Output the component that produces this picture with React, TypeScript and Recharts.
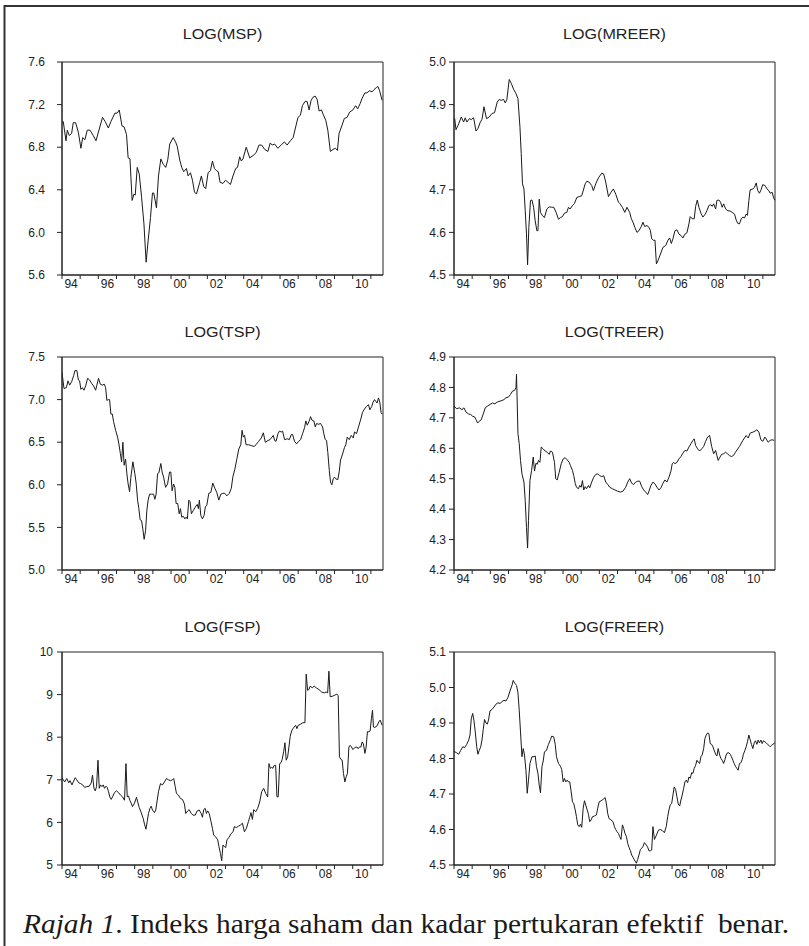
import React from 'react';
import { LineChart, Line, XAxis, YAxis, ReferenceArea } from 'recharts';

type Pt = [number, number];

// ---- shared axis data ----
const YEAR_TICKS = [1994, 1995, 1996, 1997, 1998, 1999, 2000, 2001, 2002, 2003, 2004, 2005, 2006, 2007, 2008, 2009, 2010, 2011];
const X_DOMAIN: [number, number] = [1994, 2011.667];

const MSP_TICKS = [5.6, 6.0, 6.4, 6.8, 7.2, 7.6];
const MREER_TICKS = [4.5, 4.6, 4.7, 4.8, 4.9, 5.0];
const TSP_TICKS = [5.0, 5.5, 6.0, 6.5, 7.0, 7.5];
const TREER_TICKS = [4.2, 4.3, 4.4, 4.5, 4.6, 4.7, 4.8, 4.9];
const FSP_TICKS = [5, 6, 7, 8, 9, 10];
const FREER_TICKS = [4.5, 4.6, 4.7, 4.8, 4.9, 5.0, 5.1];

// ---- series: [year, value] ----
const MSP: Pt[] = [
  [1994.00, 7.04], [1994.07, 7.04], [1994.22, 6.86], [1994.29, 6.96], [1994.40, 6.91], [1994.53, 6.93], [1994.62, 7.03], [1994.75, 7.03],
  [1994.90, 6.94], [1995.04, 6.79], [1995.14, 6.89], [1995.26, 6.87], [1995.39, 6.96], [1995.54, 6.96], [1995.72, 6.91], [1995.87, 6.86],
  [1996.05, 6.97], [1996.23, 7.08], [1996.38, 7.04], [1996.55, 6.98], [1996.69, 7.04], [1996.91, 7.12], [1997.04, 7.12], [1997.15, 7.15],
  [1997.30, 7.00], [1997.42, 6.99], [1997.55, 6.92], [1997.64, 6.70], [1997.74, 6.69], [1997.86, 6.30], [1997.96, 6.36], [1998.03, 6.35],
  [1998.14, 6.61], [1998.25, 6.55], [1998.38, 6.33], [1998.51, 6.08], [1998.63, 5.72], [1998.74, 5.92], [1998.87, 6.14], [1998.98, 6.37],
  [1999.05, 6.37], [1999.20, 6.23], [1999.31, 6.53], [1999.44, 6.69], [1999.57, 6.64], [1999.71, 6.61], [1999.82, 6.68], [1999.93, 6.83],
  [2000.12, 6.89], [2000.25, 6.85], [2000.34, 6.81], [2000.48, 6.68], [2000.59, 6.61], [2000.70, 6.57], [2000.85, 6.60], [2000.94, 6.53],
  [2001.07, 6.56], [2001.18, 6.49], [2001.29, 6.38], [2001.40, 6.36], [2001.58, 6.47], [2001.67, 6.53], [2001.80, 6.43], [2001.91, 6.41],
  [2002.04, 6.56], [2002.17, 6.58], [2002.28, 6.67], [2002.39, 6.60], [2002.50, 6.58], [2002.60, 6.57], [2002.70, 6.47], [2002.86, 6.46],
  [2003.00, 6.49], [2003.14, 6.47], [2003.27, 6.45], [2003.41, 6.53], [2003.56, 6.60], [2003.66, 6.61], [2003.78, 6.71], [2003.87, 6.67],
  [2003.96, 6.69], [2004.14, 6.80], [2004.33, 6.70], [2004.51, 6.72], [2004.69, 6.75], [2004.84, 6.82], [2004.99, 6.82], [2005.15, 6.78],
  [2005.33, 6.76], [2005.46, 6.84], [2005.57, 6.82], [2005.70, 6.83], [2005.88, 6.79], [2006.06, 6.82], [2006.24, 6.85], [2006.39, 6.82],
  [2006.57, 6.86], [2006.72, 6.89], [2006.86, 6.99], [2006.99, 7.08], [2007.12, 7.10], [2007.23, 7.19], [2007.38, 7.23], [2007.49, 7.23],
  [2007.60, 7.15], [2007.71, 7.24], [2007.82, 7.27], [2007.93, 7.28], [2008.04, 7.25], [2008.15, 7.14], [2008.28, 7.15], [2008.37, 7.11],
  [2008.52, 7.05], [2008.63, 6.96], [2008.77, 6.76], [2008.92, 6.78], [2009.05, 6.79], [2009.16, 6.77], [2009.25, 6.93], [2009.40, 7.00],
  [2009.54, 7.07], [2009.69, 7.08], [2009.83, 7.13], [2010.01, 7.15], [2010.16, 7.19], [2010.27, 7.16], [2010.41, 7.21], [2010.52, 7.26],
  [2010.67, 7.31], [2010.78, 7.31], [2010.92, 7.33], [2011.07, 7.32], [2011.17, 7.34], [2011.30, 7.36], [2011.39, 7.37], [2011.48, 7.33],
  [2011.62, 7.24],
];

const MREER: Pt[] = [
  [1994.00, 4.867], [1994.04, 4.867], [1994.11, 4.841], [1994.26, 4.855], [1994.40, 4.871], [1994.53, 4.859], [1994.62, 4.869], [1994.71, 4.859],
  [1994.84, 4.867], [1994.95, 4.865], [1995.08, 4.869], [1995.21, 4.838], [1995.32, 4.844], [1995.45, 4.859], [1995.54, 4.865], [1995.65, 4.895],
  [1995.79, 4.867], [1995.94, 4.871], [1996.09, 4.879], [1996.23, 4.881], [1996.38, 4.906], [1996.49, 4.912], [1996.60, 4.910], [1996.73, 4.912],
  [1996.82, 4.904], [1996.91, 4.912], [1997.04, 4.959], [1997.15, 4.950], [1997.28, 4.936], [1997.41, 4.926], [1997.52, 4.914], [1997.63, 4.847],
  [1997.70, 4.785], [1997.77, 4.714], [1997.85, 4.702], [1997.92, 4.651], [1997.99, 4.596], [1998.05, 4.524], [1998.12, 4.612], [1998.21, 4.675],
  [1998.29, 4.676], [1998.38, 4.659], [1998.47, 4.627], [1998.56, 4.604], [1998.62, 4.604], [1998.69, 4.678], [1998.76, 4.647], [1998.87, 4.639],
  [1998.98, 4.635], [1999.11, 4.655], [1999.24, 4.660], [1999.38, 4.659], [1999.49, 4.659], [1999.62, 4.647], [1999.75, 4.631], [1999.86, 4.635],
  [1999.97, 4.637], [2000.08, 4.645], [2000.21, 4.647], [2000.30, 4.659], [2000.39, 4.655], [2000.52, 4.663], [2000.63, 4.668], [2000.76, 4.682],
  [2000.89, 4.684], [2001.03, 4.686], [2001.22, 4.714], [2001.31, 4.720], [2001.44, 4.718], [2001.58, 4.710], [2001.67, 4.698], [2001.80, 4.714],
  [2001.95, 4.728], [2002.13, 4.739], [2002.24, 4.737], [2002.35, 4.718], [2002.50, 4.684], [2002.64, 4.694], [2002.77, 4.702], [2002.90, 4.690],
  [2003.05, 4.671], [2003.12, 4.668], [2003.27, 4.659], [2003.40, 4.647], [2003.52, 4.659], [2003.67, 4.647], [2003.76, 4.632], [2003.85, 4.624],
  [2003.95, 4.612], [2004.07, 4.600], [2004.18, 4.604], [2004.31, 4.614], [2004.40, 4.624], [2004.49, 4.614], [2004.62, 4.616], [2004.73, 4.612],
  [2004.81, 4.604], [2004.88, 4.585], [2004.99, 4.581], [2005.06, 4.582], [2005.14, 4.526], [2005.23, 4.534], [2005.36, 4.549], [2005.50, 4.565],
  [2005.65, 4.569], [2005.78, 4.582], [2005.87, 4.587], [2005.96, 4.574], [2006.05, 4.585], [2006.16, 4.604], [2006.27, 4.606], [2006.38, 4.596],
  [2006.51, 4.592], [2006.60, 4.587], [2006.71, 4.596], [2006.82, 4.599], [2006.93, 4.620], [2007.00, 4.637], [2007.11, 4.632], [2007.22, 4.632],
  [2007.30, 4.661], [2007.39, 4.676], [2007.48, 4.659], [2007.61, 4.643], [2007.70, 4.636], [2007.83, 4.643], [2007.92, 4.651], [2008.03, 4.663],
  [2008.14, 4.665], [2008.21, 4.661], [2008.29, 4.667], [2008.40, 4.655], [2008.47, 4.675], [2008.58, 4.676], [2008.67, 4.671], [2008.76, 4.659],
  [2008.84, 4.667], [2008.95, 4.655], [2009.07, 4.651], [2009.20, 4.650], [2009.31, 4.647], [2009.44, 4.643], [2009.53, 4.629], [2009.62, 4.621],
  [2009.71, 4.620], [2009.81, 4.632], [2009.90, 4.636], [2009.99, 4.634], [2010.08, 4.643], [2010.15, 4.640], [2010.23, 4.675], [2010.30, 4.700],
  [2010.45, 4.702], [2010.54, 4.706], [2010.63, 4.716], [2010.72, 4.698], [2010.81, 4.692], [2010.90, 4.700], [2010.99, 4.712], [2011.12, 4.710],
  [2011.23, 4.702], [2011.33, 4.698], [2011.40, 4.692], [2011.51, 4.694], [2011.58, 4.683], [2011.66, 4.675],
];

const TSP: Pt[] = [
  [1994.00, 7.32], [1994.11, 7.13], [1994.24, 7.14], [1994.33, 7.22], [1994.42, 7.17], [1994.53, 7.21], [1994.64, 7.28], [1994.71, 7.34],
  [1994.82, 7.34], [1994.90, 7.23], [1994.97, 7.22], [1995.04, 7.12], [1995.12, 7.14], [1995.21, 7.11], [1995.30, 7.16], [1995.41, 7.25],
  [1995.52, 7.23], [1995.63, 7.19], [1995.74, 7.16], [1995.85, 7.11], [1995.92, 7.17], [1996.01, 7.25], [1996.11, 7.18], [1996.22, 7.17],
  [1996.33, 7.18], [1996.40, 7.14], [1996.47, 6.99], [1996.55, 7.00], [1996.62, 7.00], [1996.69, 6.83], [1996.77, 6.83], [1996.84, 6.74],
  [1996.95, 6.64], [1997.06, 6.56], [1997.13, 6.48], [1997.21, 6.37], [1997.28, 6.27], [1997.35, 6.50], [1997.42, 6.23], [1997.50, 6.30],
  [1997.57, 6.13], [1997.64, 6.01], [1997.72, 5.92], [1997.79, 6.09], [1997.90, 6.27], [1998.01, 6.13], [1998.08, 6.02], [1998.16, 5.82],
  [1998.23, 5.72], [1998.30, 5.59], [1998.38, 5.58], [1998.45, 5.48], [1998.52, 5.36], [1998.60, 5.46], [1998.67, 5.70], [1998.74, 5.82],
  [1998.82, 5.89], [1998.93, 5.89], [1999.04, 5.89], [1999.11, 5.83], [1999.18, 5.89], [1999.26, 6.13], [1999.33, 6.14], [1999.44, 6.25],
  [1999.51, 6.15], [1999.59, 6.09], [1999.70, 5.97], [1999.81, 6.01], [1999.92, 6.15], [1999.99, 6.15], [2000.06, 5.93], [2000.14, 6.01],
  [2000.21, 5.97], [2000.28, 5.78], [2000.37, 5.78], [2000.45, 5.66], [2000.52, 5.72], [2000.59, 5.62], [2000.68, 5.63], [2000.76, 5.60],
  [2000.83, 5.62], [2000.90, 5.60], [2000.98, 5.82], [2001.05, 5.80], [2001.12, 5.66], [2001.23, 5.70], [2001.34, 5.74], [2001.44, 5.77],
  [2001.51, 5.72], [2001.56, 5.82], [2001.64, 5.64], [2001.73, 5.60], [2001.82, 5.64], [2001.89, 5.74], [2001.97, 5.76], [2002.08, 5.90],
  [2002.19, 5.91], [2002.30, 6.02], [2002.41, 5.96], [2002.52, 5.91], [2002.63, 5.82], [2002.74, 5.89], [2002.85, 5.90], [2002.96, 5.90],
  [2003.07, 5.87], [2003.21, 5.90], [2003.32, 5.96], [2003.40, 6.09], [2003.51, 6.18], [2003.62, 6.30], [2003.73, 6.42], [2003.84, 6.47],
  [2003.91, 6.64], [2003.98, 6.56], [2004.05, 6.58], [2004.13, 6.47], [2004.27, 6.47], [2004.42, 6.46], [2004.57, 6.45], [2004.68, 6.47],
  [2004.82, 6.51], [2004.97, 6.55], [2005.08, 6.61], [2005.19, 6.50], [2005.34, 6.52], [2005.45, 6.53], [2005.56, 6.56], [2005.63, 6.58],
  [2005.70, 6.52], [2005.78, 6.51], [2005.89, 6.60], [2005.96, 6.63], [2006.07, 6.62], [2006.14, 6.63], [2006.25, 6.53], [2006.40, 6.54],
  [2006.51, 6.53], [2006.62, 6.59], [2006.69, 6.59], [2006.80, 6.51], [2006.91, 6.48], [2007.02, 6.51], [2007.13, 6.53], [2007.24, 6.60],
  [2007.35, 6.67], [2007.42, 6.75], [2007.50, 6.70], [2007.61, 6.75], [2007.68, 6.80], [2007.75, 6.76], [2007.86, 6.75], [2007.94, 6.68],
  [2008.01, 6.72], [2008.12, 6.71], [2008.23, 6.72], [2008.34, 6.68], [2008.41, 6.60], [2008.49, 6.53], [2008.56, 6.52], [2008.63, 6.38],
  [2008.71, 6.17], [2008.78, 6.03], [2008.85, 6.00], [2008.93, 6.07], [2009.00, 6.09], [2009.07, 6.07], [2009.18, 6.06], [2009.26, 6.16],
  [2009.33, 6.29], [2009.44, 6.36], [2009.55, 6.44], [2009.62, 6.47], [2009.70, 6.56], [2009.81, 6.53], [2009.92, 6.58], [2010.03, 6.55],
  [2010.10, 6.62], [2010.21, 6.60], [2010.32, 6.68], [2010.43, 6.76], [2010.54, 6.85], [2010.65, 6.89], [2010.76, 6.92], [2010.87, 6.94],
  [2010.94, 6.88], [2011.05, 6.92], [2011.12, 6.97], [2011.20, 7.00], [2011.27, 6.98], [2011.34, 6.96], [2011.42, 7.02], [2011.49, 6.97],
  [2011.56, 6.85], [2011.62, 6.83],
];

const TREER: Pt[] = [
  [1994.00, 4.738], [1994.15, 4.730], [1994.29, 4.733], [1994.44, 4.727], [1994.55, 4.733], [1994.66, 4.719], [1994.79, 4.713], [1994.92, 4.711],
  [1995.03, 4.705], [1995.14, 4.703], [1995.21, 4.694], [1995.30, 4.683], [1995.39, 4.689], [1995.50, 4.694], [1995.61, 4.713], [1995.72, 4.733],
  [1995.83, 4.738], [1995.98, 4.744], [1996.12, 4.749], [1996.25, 4.746], [1996.38, 4.752], [1996.53, 4.755], [1996.64, 4.757], [1996.75, 4.760],
  [1996.86, 4.766], [1996.99, 4.768], [1997.11, 4.777], [1997.22, 4.788], [1997.33, 4.790], [1997.41, 4.799], [1997.44, 4.843], [1997.52, 4.648],
  [1997.59, 4.615], [1997.66, 4.560], [1997.74, 4.516], [1997.85, 4.489], [1997.92, 4.428], [1997.99, 4.340], [1998.05, 4.272], [1998.10, 4.362],
  [1998.18, 4.494], [1998.27, 4.527], [1998.36, 4.571], [1998.43, 4.525], [1998.51, 4.551], [1998.58, 4.547], [1998.65, 4.560], [1998.73, 4.554],
  [1998.80, 4.604], [1998.91, 4.598], [1999.02, 4.591], [1999.13, 4.587], [1999.24, 4.580], [1999.31, 4.591], [1999.42, 4.587], [1999.53, 4.554],
  [1999.60, 4.500], [1999.68, 4.496], [1999.79, 4.521], [1999.90, 4.549], [2000.01, 4.565], [2000.12, 4.569], [2000.23, 4.562], [2000.34, 4.554],
  [2000.41, 4.543], [2000.52, 4.527], [2000.59, 4.510], [2000.67, 4.485], [2000.74, 4.472], [2000.85, 4.467], [2000.92, 4.478], [2001.00, 4.472],
  [2001.07, 4.494], [2001.14, 4.463], [2001.22, 4.474], [2001.29, 4.467], [2001.40, 4.478], [2001.47, 4.470], [2001.58, 4.489], [2001.69, 4.505],
  [2001.80, 4.514], [2001.91, 4.516], [2002.02, 4.510], [2002.13, 4.507], [2002.24, 4.510], [2002.35, 4.489], [2002.46, 4.481], [2002.57, 4.472],
  [2002.72, 4.467], [2002.86, 4.463], [2003.01, 4.459], [2003.16, 4.456], [2003.30, 4.459], [2003.45, 4.472], [2003.56, 4.489], [2003.67, 4.500],
  [2003.78, 4.485], [2003.89, 4.481], [2004.00, 4.489], [2004.11, 4.492], [2004.22, 4.492], [2004.33, 4.474], [2004.44, 4.463], [2004.55, 4.456],
  [2004.66, 4.448], [2004.73, 4.459], [2004.84, 4.478], [2004.95, 4.489], [2005.06, 4.483], [2005.17, 4.472], [2005.28, 4.463], [2005.39, 4.470],
  [2005.50, 4.485], [2005.61, 4.496], [2005.72, 4.489], [2005.83, 4.505], [2005.94, 4.525], [2006.01, 4.549], [2006.09, 4.554], [2006.16, 4.549],
  [2006.27, 4.554], [2006.38, 4.565], [2006.49, 4.573], [2006.60, 4.584], [2006.71, 4.593], [2006.82, 4.591], [2006.93, 4.604], [2007.04, 4.615],
  [2007.15, 4.626], [2007.22, 4.631], [2007.30, 4.609], [2007.41, 4.598], [2007.52, 4.591], [2007.63, 4.598], [2007.74, 4.606], [2007.85, 4.623],
  [2007.96, 4.637], [2008.07, 4.642], [2008.18, 4.606], [2008.29, 4.582], [2008.40, 4.593], [2008.47, 4.576], [2008.54, 4.560], [2008.62, 4.569],
  [2008.73, 4.580], [2008.84, 4.582], [2008.95, 4.587], [2009.05, 4.582], [2009.16, 4.576], [2009.27, 4.573], [2009.38, 4.576], [2009.49, 4.587],
  [2009.71, 4.606], [2009.90, 4.626], [2010.08, 4.642], [2010.19, 4.634], [2010.30, 4.650], [2010.45, 4.653], [2010.56, 4.656], [2010.67, 4.661],
  [2010.78, 4.653], [2010.89, 4.628], [2011.00, 4.623], [2011.11, 4.637], [2011.18, 4.631], [2011.29, 4.620], [2011.40, 4.626], [2011.51, 4.628],
  [2011.62, 4.626],
];

const FSP: Pt[] = [
  [1994.00, 7.05], [1994.07, 7.00], [1994.15, 6.95], [1994.26, 7.03], [1994.37, 6.93], [1994.44, 6.98], [1994.55, 6.88], [1994.62, 6.95],
  [1994.73, 7.05], [1994.81, 7.00], [1994.92, 6.93], [1995.03, 6.91], [1995.14, 6.88], [1995.25, 6.82], [1995.36, 6.84], [1995.50, 6.85],
  [1995.61, 6.93], [1995.68, 7.11], [1995.76, 6.80], [1995.83, 6.74], [1995.90, 6.84], [1995.98, 7.46], [1996.05, 6.80], [1996.12, 6.88],
  [1996.20, 6.84], [1996.27, 6.88], [1996.34, 6.80], [1996.42, 6.85], [1996.49, 6.82], [1996.56, 6.72], [1996.64, 6.59], [1996.71, 6.54],
  [1996.78, 6.60], [1996.89, 6.70], [1997.00, 6.74], [1997.11, 6.70], [1997.22, 6.64], [1997.33, 6.60], [1997.44, 6.52], [1997.52, 7.38],
  [1997.59, 6.60], [1997.66, 6.62], [1997.74, 6.51], [1997.81, 6.45], [1997.88, 6.37], [1997.99, 6.45], [1998.10, 6.59], [1998.18, 6.46],
  [1998.25, 6.35], [1998.36, 6.23], [1998.47, 6.09], [1998.54, 5.96], [1998.62, 5.84], [1998.69, 6.02], [1998.76, 6.21], [1998.84, 6.33],
  [1998.91, 6.38], [1998.98, 6.29], [1999.09, 6.23], [1999.16, 6.29], [1999.24, 6.52], [1999.31, 6.72], [1999.42, 6.91], [1999.53, 6.88],
  [1999.64, 6.95], [1999.75, 7.03], [1999.86, 7.00], [1999.97, 6.98], [2000.08, 7.00], [2000.15, 7.03], [2000.23, 6.84], [2000.30, 6.68],
  [2000.41, 6.64], [2000.52, 6.56], [2000.63, 6.54], [2000.74, 6.43], [2000.81, 6.21], [2000.92, 6.27], [2001.00, 6.30], [2001.11, 6.21],
  [2001.22, 6.17], [2001.33, 6.17], [2001.44, 6.27], [2001.55, 6.29], [2001.66, 6.21], [2001.73, 6.12], [2001.80, 6.30], [2001.88, 6.33],
  [2001.95, 6.21], [2002.02, 6.27], [2002.10, 6.21], [2002.20, 6.02], [2002.28, 5.86], [2002.35, 5.70], [2002.46, 5.66], [2002.57, 5.59],
  [2002.64, 5.43], [2002.72, 5.27], [2002.79, 5.10], [2002.86, 5.47], [2002.94, 5.43], [2003.01, 5.41], [2003.08, 5.59], [2003.19, 5.65],
  [2003.30, 5.73], [2003.41, 5.78], [2003.49, 5.90], [2003.60, 5.88], [2003.71, 5.91], [2003.82, 5.94], [2003.93, 5.98], [2004.04, 5.78],
  [2004.15, 5.86], [2004.26, 6.02], [2004.33, 6.12], [2004.40, 6.23], [2004.48, 6.07], [2004.55, 6.30], [2004.66, 6.25], [2004.77, 6.33],
  [2004.88, 6.48], [2004.99, 6.72], [2005.10, 6.80], [2005.21, 6.68], [2005.32, 6.60], [2005.39, 7.38], [2005.47, 7.27], [2005.54, 7.29],
  [2005.61, 7.27], [2005.68, 7.34], [2005.76, 7.34], [2005.83, 6.60], [2005.90, 6.60], [2005.98, 7.38], [2006.05, 7.40], [2006.12, 7.48],
  [2006.20, 7.66], [2006.27, 7.87], [2006.34, 7.46], [2006.42, 7.54], [2006.49, 7.77], [2006.56, 8.02], [2006.64, 8.15], [2006.71, 8.20],
  [2006.78, 8.24], [2006.86, 8.28], [2006.93, 8.20], [2007.00, 8.28], [2007.11, 8.30], [2007.26, 8.34], [2007.37, 8.34], [2007.44, 9.48],
  [2007.52, 9.10], [2007.59, 9.12], [2007.66, 9.20], [2007.77, 9.16], [2007.88, 9.20], [2007.99, 9.16], [2008.14, 9.12], [2008.29, 9.06],
  [2008.43, 9.04], [2008.54, 9.06], [2008.62, 9.04], [2008.69, 9.55], [2008.76, 8.95], [2008.87, 8.96], [2008.98, 8.98], [2009.13, 9.01],
  [2009.20, 8.98], [2009.27, 7.54], [2009.35, 7.48], [2009.42, 7.46], [2009.49, 7.15], [2009.57, 6.95], [2009.64, 7.07], [2009.71, 7.15],
  [2009.79, 7.77], [2009.86, 7.81], [2009.93, 7.77], [2010.01, 7.71], [2010.12, 7.76], [2010.23, 7.77], [2010.30, 7.73], [2010.37, 7.77],
  [2010.45, 7.77], [2010.52, 7.89], [2010.59, 7.84], [2010.67, 7.62], [2010.74, 7.77], [2010.81, 8.13], [2010.89, 8.13], [2010.96, 8.15],
  [2011.03, 8.44], [2011.09, 8.63], [2011.14, 8.24], [2011.22, 8.23], [2011.33, 8.26], [2011.44, 8.36], [2011.51, 8.40], [2011.62, 8.28],
];

const FREER: Pt[] = [
  [1994.00, 4.820], [1994.15, 4.816], [1994.26, 4.812], [1994.37, 4.823], [1994.48, 4.833], [1994.59, 4.831], [1994.70, 4.840], [1994.81, 4.852],
  [1994.88, 4.866], [1994.95, 4.912], [1995.03, 4.927], [1995.10, 4.906], [1995.17, 4.875], [1995.25, 4.833], [1995.32, 4.812], [1995.39, 4.823],
  [1995.47, 4.833], [1995.54, 4.852], [1995.61, 4.882], [1995.68, 4.910], [1995.76, 4.900], [1995.83, 4.897], [1995.90, 4.908], [1995.98, 4.934],
  [1996.09, 4.938], [1996.20, 4.945], [1996.31, 4.953], [1996.42, 4.957], [1996.53, 4.955], [1996.64, 4.960], [1996.75, 4.964], [1996.86, 4.962],
  [1996.97, 4.972], [1997.08, 4.990], [1997.19, 5.006], [1997.26, 5.020], [1997.33, 5.013], [1997.44, 5.006], [1997.52, 4.985], [1997.59, 4.936],
  [1997.66, 4.875], [1997.74, 4.805], [1997.81, 4.828], [1997.88, 4.810], [1997.96, 4.767], [1998.03, 4.702], [1998.10, 4.739], [1998.18, 4.786],
  [1998.29, 4.805], [1998.40, 4.805], [1998.47, 4.807], [1998.54, 4.777], [1998.62, 4.758], [1998.69, 4.725], [1998.76, 4.703], [1998.84, 4.777],
  [1998.91, 4.793], [1998.98, 4.819], [1999.09, 4.823], [1999.20, 4.840], [1999.31, 4.853], [1999.38, 4.863], [1999.49, 4.861], [1999.57, 4.840],
  [1999.64, 4.805], [1999.75, 4.786], [1999.86, 4.778], [1999.93, 4.769], [2000.01, 4.734], [2000.08, 4.744], [2000.15, 4.734], [2000.23, 4.739],
  [2000.30, 4.734], [2000.37, 4.734], [2000.45, 4.706], [2000.52, 4.678], [2000.59, 4.673], [2000.67, 4.655], [2000.74, 4.636], [2000.81, 4.613],
  [2000.89, 4.608], [2000.96, 4.615], [2001.03, 4.606], [2001.11, 4.660], [2001.18, 4.681], [2001.25, 4.669], [2001.33, 4.655], [2001.40, 4.643],
  [2001.47, 4.622], [2001.55, 4.627], [2001.62, 4.636], [2001.73, 4.638], [2001.84, 4.641], [2001.91, 4.660], [2001.99, 4.678], [2002.10, 4.681],
  [2002.21, 4.685], [2002.32, 4.690], [2002.39, 4.672], [2002.46, 4.645], [2002.53, 4.631], [2002.64, 4.627], [2002.75, 4.622], [2002.83, 4.608],
  [2002.90, 4.600], [2002.97, 4.594], [2003.05, 4.589], [2003.12, 4.580], [2003.19, 4.572], [2003.27, 4.613], [2003.34, 4.603], [2003.41, 4.589],
  [2003.49, 4.580], [2003.56, 4.561], [2003.63, 4.550], [2003.71, 4.540], [2003.78, 4.528], [2003.85, 4.522], [2003.93, 4.514], [2004.04, 4.505],
  [2004.11, 4.516], [2004.18, 4.528], [2004.26, 4.544], [2004.33, 4.547], [2004.40, 4.552], [2004.48, 4.563], [2004.59, 4.556], [2004.66, 4.550],
  [2004.73, 4.540], [2004.81, 4.540], [2004.88, 4.542], [2004.95, 4.608], [2005.03, 4.572], [2005.14, 4.584], [2005.25, 4.598], [2005.36, 4.600],
  [2005.47, 4.597], [2005.58, 4.591], [2005.68, 4.608], [2005.76, 4.636], [2005.83, 4.655], [2005.90, 4.669], [2005.98, 4.673], [2006.05, 4.697],
  [2006.12, 4.720], [2006.20, 4.712], [2006.27, 4.692], [2006.34, 4.672], [2006.42, 4.666], [2006.49, 4.683], [2006.56, 4.697], [2006.64, 4.716],
  [2006.71, 4.734], [2006.78, 4.739], [2006.86, 4.732], [2006.93, 4.748], [2007.00, 4.744], [2007.08, 4.760], [2007.15, 4.758], [2007.22, 4.772],
  [2007.30, 4.781], [2007.37, 4.795], [2007.44, 4.790], [2007.52, 4.786], [2007.59, 4.805], [2007.66, 4.810], [2007.74, 4.828], [2007.81, 4.856],
  [2007.88, 4.866], [2007.96, 4.872], [2008.03, 4.870], [2008.10, 4.842], [2008.18, 4.840], [2008.25, 4.833], [2008.32, 4.823], [2008.40, 4.812],
  [2008.47, 4.807], [2008.54, 4.828], [2008.62, 4.810], [2008.69, 4.800], [2008.76, 4.795], [2008.84, 4.786], [2008.91, 4.797], [2008.98, 4.810],
  [2009.05, 4.816], [2009.13, 4.816], [2009.20, 4.812], [2009.27, 4.805], [2009.35, 4.795], [2009.42, 4.786], [2009.49, 4.778], [2009.57, 4.772],
  [2009.64, 4.767], [2009.71, 4.786], [2009.79, 4.788], [2009.86, 4.797], [2009.93, 4.812], [2010.01, 4.823], [2010.08, 4.833], [2010.15, 4.847],
  [2010.23, 4.866], [2010.30, 4.853], [2010.37, 4.840], [2010.45, 4.828], [2010.52, 4.844], [2010.59, 4.850], [2010.67, 4.840], [2010.74, 4.852],
  [2010.81, 4.844], [2010.89, 4.852], [2010.96, 4.842], [2011.03, 4.850], [2011.11, 4.847], [2011.18, 4.844], [2011.25, 4.840], [2011.33, 4.837],
  [2011.40, 4.833], [2011.47, 4.837], [2011.55, 4.840], [2011.66, 4.844],
];

// ---- layout constants ----
const PLOT_W = 321;
const PLOT_H = 213;
const Y_AXIS_W = 50;
const M_TOP = 12;
const M_RIGHT = 6;
const X_AXIS_H = 26;
const INK = '#222';
const SANS = '"Liberation Sans", Arial, sans-serif';

type PanelProps = {
  left: number;
  top: number;
  titleY: number;
  title: string;
  series: Pt[];
  ticks: number[];
  decimals: number;
  labelGap: number;
};

function Panel({ left, top, titleY, title, series, ticks, decimals, labelGap }: PanelProps) {
  const data = series.map(([t, v]) => ({ t, v }));
  const halfYear = PLOT_W / (X_DOMAIN[1] - X_DOMAIN[0]) / 2;
  const yMin = ticks[0];
  const yMax = ticks[ticks.length - 1];

  const renderXTick = (p: any) => {
    const yr = Math.round(p.payload.value);
    if (yr % 2 !== 0) return <g />;
    const label = String(yr % 100).padStart(2, '0');
    return (
      <text x={p.x + halfYear} y={p.y} dy="0.71em" textAnchor="middle" fontSize={12} fontFamily={SANS} fill={INK}>
        {label}
      </text>
    );
  };

  return (
    <>
      <div
        style={{
          position: 'absolute',
          left,
          top: titleY - 9,
          width: PLOT_W,
          height: 18,
          lineHeight: '18px',
          textAlign: 'center',
          fontFamily: SANS,
          fontSize: 14,
          color: INK,
          transform: 'scaleX(1.15)',
          transformOrigin: 'center',
          whiteSpace: 'nowrap',
        }}
      >
        {title}
      </div>
      <div style={{ position: 'absolute', left: left - Y_AXIS_W, top: top - M_TOP }}>
        <LineChart
          width={Y_AXIS_W + PLOT_W + M_RIGHT}
          height={M_TOP + PLOT_H + X_AXIS_H}
          data={data}
          margin={{ top: M_TOP, right: M_RIGHT, bottom: 0, left: 0 }}
        >
          <XAxis
            dataKey="t"
            type="number"
            domain={X_DOMAIN}
            ticks={YEAR_TICKS}
            interval={0}
            tickSize={4}
            tickMargin={0}
            height={X_AXIS_H}
            tick={renderXTick}
            stroke={INK}
            allowDataOverflow
          />
          <YAxis
            type="number"
            domain={[yMin, yMax]}
            ticks={ticks}
            interval={0}
            width={Y_AXIS_W}
            tickSize={5}
            tickMargin={labelGap}
            tickFormatter={(v: number) => v.toFixed(decimals)}
            tick={{ fontSize: 12, fill: INK, fontFamily: SANS }}
            stroke={INK}
            allowDataOverflow
          />
          <ReferenceArea x1={X_DOMAIN[0]} x2={X_DOMAIN[1]} y1={yMin} y2={yMax} fill="none" fillOpacity={0} stroke={INK} strokeWidth={1} strokeOpacity={1} />
          <Line type="linear" dataKey="v" stroke="#1a1a1a" strokeWidth={1} dot={false} isAnimationActive={false} />
        </LineChart>
      </div>
    </>
  );
}

export default function App() {
  return (
    <div style={{ position: 'absolute', left: 0, top: 0, width: 809, height: 946, background: '#fff', overflow: 'hidden' }}>
      <svg width={809} height={946} style={{ position: 'absolute', left: 0, top: 0 }}>
        <line x1={4} y1={6} x2={809} y2={6} stroke="#333" strokeWidth={2} />
        <line x1={4.5} y1={5} x2={4.5} y2={946} stroke="#333" strokeWidth={2} />
        <text
          x={23}
          y={933}
          fontFamily='"Liberation Serif", "Times New Roman", serif'
          fontSize={27}
          fill="#1a1a1a"
          textLength={766}
          lengthAdjust="spacingAndGlyphs"
          style={{ whiteSpace: 'pre' }}
        >
          <tspan fontStyle="italic">Rajah 1</tspan>
          {'. Indeks harga saham dan kadar pertukaran efektif  benar.'}
        </text>
      </svg>
      <Panel left={62} top={62} titleY={33.5} title="LOG(MSP)" series={MSP} ticks={MSP_TICKS} decimals={1} labelGap={12} />
      <Panel left={454} top={62} titleY={33.5} title="LOG(MREER)" series={MREER} ticks={MREER_TICKS} decimals={1} labelGap={3} />
      <Panel left={62} top={357} titleY={331.5} title="LOG(TSP)" series={TSP} ticks={TSP_TICKS} decimals={1} labelGap={12} />
      <Panel left={454} top={357} titleY={331.5} title="LOG(TREER)" series={TREER} ticks={TREER_TICKS} decimals={1} labelGap={3} />
      <Panel left={62} top={652} titleY={627} title="LOG(FSP)" series={FSP} ticks={FSP_TICKS} decimals={0} labelGap={4} />
      <Panel left={454} top={652} titleY={627} title="LOG(FREER)" series={FREER} ticks={FREER_TICKS} decimals={1} labelGap={3} />
    </div>
  );
}
